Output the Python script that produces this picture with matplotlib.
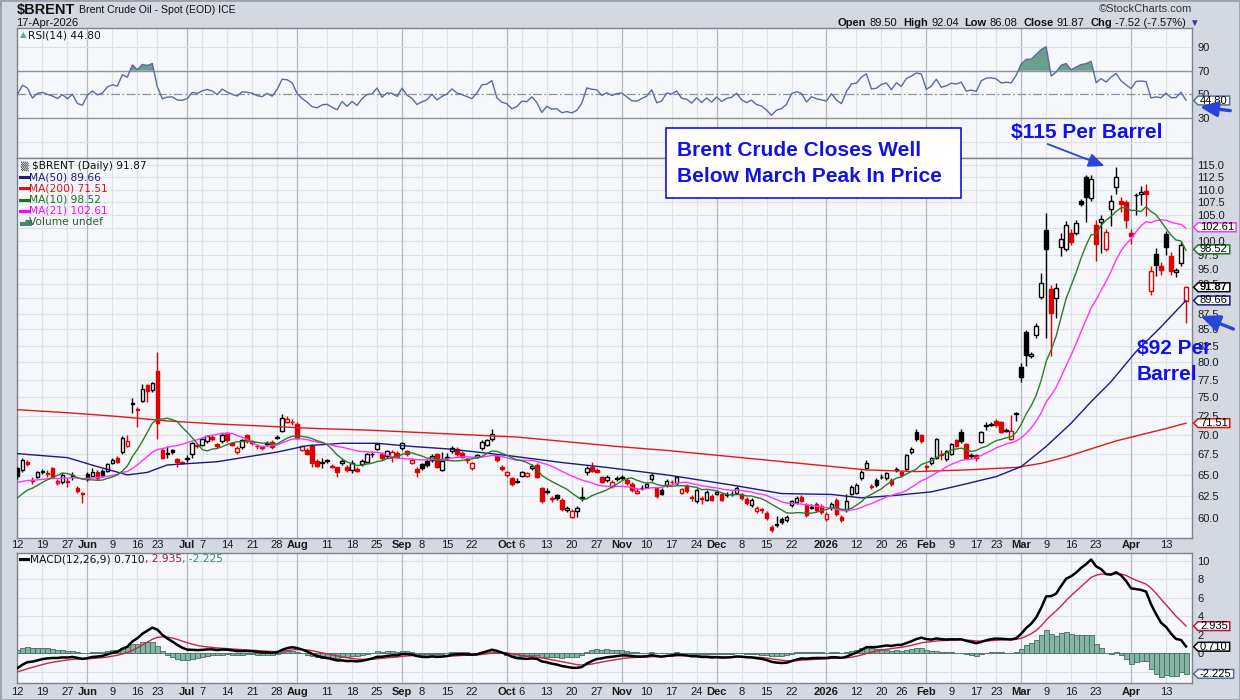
"""
$BRENT daily candles, Brent spot (EOD), May 2025 - Apr 2026.
Three stacked panels drawn like a StockCharts page: RSI(14) on top,
price with moving averages in the middle, MACD(12,26,9) at the bottom.
"""
import numpy as np
import pandas as pd
import matplotlib
matplotlib.use("Agg")
import matplotlib.pyplot as plt
from matplotlib.path import Path
from matplotlib.patches import Rectangle, FancyArrowPatch
from matplotlib.lines import Line2D
from matplotlib.ticker import NullLocator

# ---- daily OHLC, one value per trading day (US holidays skipped) ----
opens = [
    65.8, 65.6, 66.6, 64.4, 64.8, 65.3, 65.2, 65.8, 64.0, 64.1,
    64.3, 64.9, 63.5, 62.9, 65.1, 64.9, 65.4, 65.5, 65.5, 66.5,
    67.1, 67.8, 68.6, 74.1, 73.4, 74.5, 76.7, 76.0, 78.7, 68.0,
    67.6, 68.0, 66.9, 66.6, 66.9, 67.6, 68.7, 68.7, 69.2, 69.7,
    68.8, 69.2, 70.2, 68.9, 67.8, 68.4, 69.9, 69.1, 68.6, 68.5,
    68.8, 69.1, 69.6, 70.5, 71.7, 71.7, 71.4, 68.1, 68.1, 68.6,
    66.7, 66.5, 66.8, 66.1, 65.9, 66.4, 66.0, 65.6, 65.7, 66.3,
    66.6, 67.5, 68.2, 67.6, 67.3, 67.2, 67.7, 68.3, 67.9, 66.5,
    65.7, 66.3, 66.7, 66.8, 67.5, 65.6, 67.1, 67.9, 68.2, 67.7,
    66.9, 65.8, 67.2, 68.3, 68.7, 69.4, 67.3, 66.0, 65.0, 64.6,
    64.2, 64.9, 64.9, 65.8, 66.2, 63.4, 63.0, 62.3, 62.6, 62.1,
    60.9, 60.2, 60.8, 62.3, 65.4, 65.9, 65.6, 64.7, 64.4, 63.7,
    64.5, 64.6, 64.4, 63.9, 62.9, 63.4, 63.6, 64.5, 63.4, 63.2,
    63.8, 64.2, 64.0, 62.9, 63.7, 62.4, 61.9, 62.3, 62.1, 62.5,
    62.8, 62.7, 62.8, 62.7, 62.9, 62.7, 62.2, 61.5, 60.8, 61.0,
    60.6, 59.1, 59.3, 59.9, 59.8, 61.5, 61.8, 62.4, 61.5, 61.2,
    61.6, 61.4, 59.9, 61.1, 62.1, 60.2, 60.9, 62.8, 62.9, 64.6,
    65.8, 63.7, 64.4, 64.7, 64.6, 64.4, 65.6, 65.3, 65.7, 67.8,
    70.4, 69.9, 66.1, 66.4, 67.1, 67.5, 66.9, 67.6, 69.3, 70.4,
    68.8, 67.3, 67.4, 69.1, 71.1, 71.3, 71.8, 71.6, 70.5, 69.5,
    72.7, 79.3, 84.6, 80.9, 84.1, 90.2, 102.1, 91.6, 90.0, 98.9,
    98.6, 101.6, 101.6, 107.8, 112.6, 108.4, 103.0, 103.6, 98.5, 106.2,
    110.5, 107.8, 107.6, 101.6, 108.9, 109.1, 109.8, 91.2, 97.6, 95.5,
    101.3, 97.4, 94.55, 96.0, 89.50,
]
highs = [
    66.0, 67.0, 66.8, 64.8, 65.5, 65.7, 65.6, 66.0, 64.5, 65.2,
    64.6, 65.4, 63.7, 63.0, 65.3, 65.8, 65.6, 65.7, 66.5, 67.0,
    67.3, 69.8, 70.0, 74.9, 73.7, 76.8, 76.9, 77.2, 81.6, 68.3,
    68.5, 68.2, 67.0, 66.7, 67.4, 69.1, 68.9, 69.6, 70.0, 69.9,
    69.0, 70.2, 70.4, 69.1, 68.5, 69.5, 70.1, 69.3, 68.8, 68.6,
    69.2, 69.3, 70.0, 72.7, 72.4, 72.0, 71.6, 68.7, 68.3, 68.8,
    66.9, 67.0, 66.9, 66.3, 66.0, 66.9, 66.2, 66.8, 65.9, 66.9,
    67.7, 67.9, 69.0, 67.8, 68.1, 68.0, 67.9, 69.1, 68.1, 67.0,
    65.9, 66.5, 66.9, 67.5, 67.7, 67.8, 67.7, 68.6, 68.4, 67.9,
    67.1, 66.6, 67.6, 69.3, 69.5, 70.8, 67.5, 66.2, 65.5, 64.8,
    64.6, 65.5, 65.4, 66.3, 66.4, 63.6, 63.4, 62.5, 62.8, 62.3,
    61.4, 61.0, 61.4, 63.6, 66.1, 66.6, 65.8, 64.9, 65.0, 64.4,
    64.9, 65.0, 64.6, 64.1, 63.4, 63.8, 64.1, 65.2, 63.6, 63.4,
    64.5, 64.4, 64.9, 63.5, 63.9, 62.6, 63.4, 62.5, 63.2, 62.7,
    63.2, 62.9, 63.0, 63.1, 63.7, 62.9, 62.4, 62.3, 61.4, 61.2,
    60.8, 59.3, 60.3, 60.1, 60.4, 62.1, 62.5, 62.6, 61.7, 61.6,
    61.8, 61.6, 60.7, 61.8, 62.3, 60.4, 62.8, 63.8, 64.0, 65.6,
    66.8, 63.9, 64.6, 65.1, 65.4, 64.6, 66.0, 65.5, 67.6, 68.4,
    70.7, 70.1, 66.3, 67.2, 69.6, 68.0, 68.1, 69.0, 69.5, 70.7,
    69.0, 67.7, 67.6, 70.5, 71.6, 71.7, 72.0, 71.8, 70.9, 72.6,
    73.0, 79.9, 84.9, 81.5, 86.0, 94.3, 105.3, 92.2, 92.6, 101.5,
    103.8, 102.2, 104.0, 108.1, 113.1, 113.1, 104.0, 104.9, 102.3, 108.9,
    114.6, 108.5, 107.9, 102.3, 109.3, 110.8, 111.2, 95.5, 98.8, 96.2,
    102.0, 98.0, 95.2, 99.8, 92.04,
]
lows = [
    64.5, 65.4, 66.1, 63.9, 64.6, 65.1, 64.8, 64.6, 63.8, 63.9,
    63.6, 64.4, 62.9, 61.7, 64.3, 64.7, 64.4, 64.8, 65.3, 66.3,
    66.4, 67.5, 68.4, 72.9, 71.0, 74.3, 74.3, 75.8, 69.4, 66.9,
    67.0, 67.5, 65.9, 66.3, 66.6, 67.0, 68.3, 68.5, 69.0, 69.2,
    68.3, 69.0, 69.1, 68.5, 67.6, 68.2, 69.0, 68.7, 68.2, 68.1,
    68.6, 68.2, 69.4, 70.3, 71.5, 71.3, 69.4, 67.9, 67.4, 65.9,
    65.9, 65.8, 66.4, 65.8, 64.8, 66.2, 65.4, 65.2, 65.3, 66.1,
    66.4, 67.2, 68.0, 66.8, 67.1, 66.6, 67.0, 68.1, 67.3, 66.3,
    64.8, 65.6, 66.0, 66.6, 65.8, 65.5, 66.8, 67.7, 67.3, 67.0,
    66.5, 65.6, 67.0, 68.1, 68.5, 69.2, 66.6, 65.5, 64.8, 63.7,
    64.0, 64.7, 64.7, 65.6, 64.6, 61.7, 62.8, 61.8, 62.1, 60.8,
    60.7, 60.0, 60.2, 62.0, 65.0, 65.3, 65.2, 64.0, 64.2, 63.5,
    64.3, 64.4, 63.8, 63.0, 62.8, 63.2, 63.4, 64.3, 62.3, 62.6,
    63.6, 63.8, 63.8, 62.7, 62.9, 62.0, 61.7, 61.6, 61.9, 61.9,
    62.6, 61.9, 62.4, 62.5, 62.7, 62.1, 61.5, 61.3, 60.6, 60.6,
    59.8, 58.5, 59.1, 59.4, 59.6, 61.3, 61.6, 61.8, 60.2, 61.0,
    60.7, 60.5, 59.7, 60.9, 60.3, 59.6, 60.7, 62.6, 62.7, 64.4,
    65.6, 63.3, 63.6, 64.5, 64.4, 63.7, 65.4, 64.8, 65.5, 67.6,
    69.2, 69.0, 65.5, 66.2, 66.9, 66.8, 66.7, 67.4, 68.4, 69.0,
    66.9, 67.1, 66.7, 68.9, 70.6, 71.1, 71.0, 70.2, 70.3, 69.3,
    71.8, 77.1, 79.4, 80.7, 83.6, 89.9, 83.6, 80.9, 86.8, 97.3,
    98.3, 99.4, 101.2, 106.8, 103.7, 107.8, 96.5, 97.8, 98.2, 102.8,
    109.2, 105.5, 102.5, 99.5, 105.0, 106.9, 104.7, 90.5, 93.8, 93.9,
    97.5, 94.0, 93.6, 95.6, 86.08,
]
closes = [
    64.9, 66.8, 66.3, 64.3, 65.3, 65.5, 65.1, 64.8, 64.3, 65.0,
    64.2, 65.0, 63.1, 62.7, 64.5, 65.4, 64.6, 65.0, 66.3, 66.8,
    66.6, 69.6, 69.2, 74.2, 73.3, 76.1, 75.9, 77.0, 71.5, 67.1,
    67.7, 67.8, 66.6, 66.5, 67.0, 68.9, 68.6, 69.4, 69.8, 69.4,
    68.5, 70.0, 69.3, 68.7, 68.3, 69.3, 69.2, 69.0, 68.5, 68.3,
    68.9, 68.4, 69.7, 72.2, 72.1, 71.6, 69.6, 68.5, 67.6, 66.4,
    66.1, 66.6, 66.7, 66.0, 65.4, 66.7, 65.6, 66.4, 65.5, 66.7,
    67.5, 67.6, 68.8, 67.0, 67.9, 67.8, 67.2, 68.9, 67.5, 66.8,
    65.3, 65.8, 66.2, 67.3, 66.0, 66.7, 67.2, 68.3, 67.5, 67.2,
    66.8, 66.4, 67.4, 69.1, 69.3, 70.1, 66.8, 65.7, 65.3, 63.9,
    64.3, 65.3, 65.2, 66.1, 64.8, 61.9, 63.1, 62.2, 62.3, 61.0,
    61.2, 60.8, 61.2, 62.4, 65.8, 65.5, 65.4, 64.2, 64.8, 64.2,
    64.6, 64.7, 64.0, 63.2, 63.1, 63.5, 63.9, 65.0, 62.5, 62.8,
    64.3, 64.1, 64.7, 63.3, 63.1, 62.3, 63.2, 62.2, 63.0, 62.1,
    63.0, 62.1, 62.6, 62.8, 63.5, 62.3, 61.7, 62.1, 61.2, 60.9,
    60.0, 58.7, 59.4, 59.6, 60.2, 61.9, 62.3, 62.0, 60.4, 61.3,
    60.9, 60.7, 60.5, 61.6, 60.5, 59.8, 61.9, 63.6, 63.8, 65.4,
    66.4, 63.6, 63.8, 64.8, 65.2, 63.9, 65.7, 65.0, 67.4, 68.2,
    69.4, 69.2, 66.0, 67.0, 69.4, 67.4, 67.9, 68.8, 68.6, 69.2,
    67.1, 67.4, 67.1, 70.3, 71.3, 71.4, 71.2, 70.4, 70.6, 70.5,
    72.8, 77.9, 81.1, 81.3, 85.6, 92.6, 98.6, 87.6, 91.7, 100.4,
    103.0, 99.8, 103.4, 107.1, 108.5, 112.1, 99.5, 104.2, 101.7, 107.7,
    112.5, 107.1, 104.0, 101.0, 109.0, 109.5, 109.1, 94.7, 95.7, 94.8,
    99.0, 94.7, 94.8, 99.39, 91.87,
]

# long averages at a handful of days (trading-day index, value)
ma50_idx = [0, 10, 16, 22, 26, 30, 40, 52, 58, 65, 72, 79, 86, 92, 99, 109, 118,
            130, 143, 153, 163, 169, 176, 183, 189, 196, 201, 206, 211, 215, 219,
            224, 229, 234]
ma50_val = [67.6, 67.1, 66.0, 65.0, 65.3, 66.2, 66.6, 67.8, 68.6, 68.9, 68.9, 68.5,
            68.2, 67.8, 67.3, 66.5, 65.9, 65.0, 63.8, 62.8, 62.7, 62.3, 62.6, 63.0,
            63.8, 64.8, 66.0, 68.5, 71.5, 74.4, 77.2, 81.6, 85.4, 89.66]
ma200_idx = [0, 10, 20, 30, 40, 50, 60, 70, 80, 90, 100, 110, 120, 130, 140, 150,
             160, 170, 180, 190, 200, 205, 210, 215, 220, 225, 230, 234]
ma200_val = [73.3, 72.9, 72.4, 71.8, 71.4, 71.1, 70.8, 70.6, 70.3, 70.0, 69.7, 69.1,
             68.5, 68.0, 67.4, 66.8, 66.2, 65.6, 65.4, 65.6, 65.9, 66.4, 67.2, 68.2,
             69.2, 70.0, 70.8, 71.51]

# indicator levels seen at the left edge (history before 12 May is off the chart)
ma10_start, ma21_start = 62.3, 64.1
rsi_start, rsi_avg_move = 50.0, 0.8
macd_start, signal_start, ema26_start = -1.6, -2.0, 65.2

# last values printed in the legends / right-hand tags
last_tags_price = [(102.61, "102.61", "#ff33ff"), (98.52, "98.52", "#1f7a1f"),
                   (91.87, "91.87", "#000000"), (89.66, "89.66", "#1a1a80"),
                   (71.51, "71.51", "#e01010")]
rsi_last = 44.80
macd_last = [(2.935, "2.935", "#b0183c"), (0.710, "0.710", "#000000"),
             (-2.225, "-2.225", "#5a6b9e")]

# weekly date ticks (trading-day index, label); month names bold
tick_idx = [0, 5, 10, 14, 19, 24, 28, 34, 37, 42, 47, 52, 56, 62, 67, 72, 77, 81,
            86, 91, 98, 101, 106, 111, 116, 121, 126, 131, 136, 140, 145, 150, 155,
            162, 168, 173, 177, 182, 187, 192, 196, 201, 206, 211, 216, 223, 230]
tick_lab = ["12", "19", "27", "Jun", "9", "16", "23", "Jul", "7", "14", "21", "28",
            "Aug", "11", "18", "25", "Sep", "8", "15", "22", "Oct", "6", "13", "20",
            "27", "Nov", "10", "17", "24", "Dec", "8", "15", "22", "2026", "12", "20",
            "26", "Feb", "9", "17", "23", "Mar", "9", "16", "23", "Apr", "13"]

# axis labels that sit under a value tag in the reference (not printed there)
hidden_price_labels = [102.5, 90.0]
hidden_macd_labels = [-2]

# ---- palette ----
OUTER = "#d3d8e1"
PANEL = "#f5f7fb"
GRID = "#dde1e8"
GRID_M = "#b3b8c1"
SPINE = "#7d838e"
UP, DN = "#000000", "#e00000"
BLUE_T = "#1212e8"
BLUE_A = "#2845d6"
SANS = ["Liberation Sans", "DejaVu Sans"]
VERD = ["DejaVu Sans"]

FW, FH = 1240, 700
L_PX, R_PX = 16.5, 1192.0


def fxy(x, y):
    return x / FW, 1 - y / FH


c = np.array(closes)
o = np.array(opens)
h = np.array(highs)
lo = np.array(lows)
x = np.arange(len(c))


def sma(vals, n, start):
    lead = (n * start - vals[0]) / (n - 1)
    s = pd.Series(np.r_[np.full(n - 1, lead), vals])
    return s.rolling(n).mean().to_numpy()[n - 1:]


ma10 = sma(c, 10, ma10_start)
ma21 = sma(c, 21, ma21_start)

# RSI(14), Wilder smoothing
rsi = np.empty(len(c))
rsi[0] = rsi_start
ag = rsi_avg_move * rsi_start / 100
al = rsi_avg_move * (100 - rsi_start) / 100
for i in range(1, len(c)):
    d = c[i] - c[i - 1]
    ag = (ag * 13 + max(d, 0)) / 14
    al = (al * 13 + max(-d, 0)) / 14
    rsi[i] = 100 - 100 / (1 + ag / al)

# MACD(12,26,9)
macd = np.empty(len(c))
sig = np.empty(len(c))
e26 = ema26_start
e12 = e26 + macd_start
macd[0], sig[0] = macd_start, signal_start
for i in range(1, len(c)):
    e12 += 2 / 13 * (c[i] - e12)
    e26 += 2 / 27 * (c[i] - e26)
    macd[i] = e12 - e26
    sig[i] = sig[i - 1] + 2 / 10 * (macd[i] - sig[i - 1])
hist = macd - sig

# ---- figure ----
fig = plt.figure(figsize=(FW / 100, FH / 100), dpi=100)
fig.patch.set_facecolor(OUTER)


def panel(top, bottom):
    ax = fig.add_axes([L_PX / FW, 1 - bottom / FH, (R_PX - L_PX) / FW, (bottom - top) / FH])
    ax.set_facecolor(PANEL)
    for s in ax.spines.values():
        s.set_color(SPINE)
        s.set_linewidth(1.0)
    ax.set_xlim(-0.2, 235.2)
    ax.set_xticks([])
    ax.yaxis.tick_right()
    ax.tick_params(axis="y", length=0, pad=4, labelsize=8, labelcolor="#1a1a1a")
    for i, t in zip(tick_idx, tick_lab):
        month = not t.isdigit() or t == "2026"
        ax.axvline(i, color=GRID_M if month else GRID, lw=0.9, zorder=0.5)
    return ax


ax_r = panel(28, 158)
ax_p = panel(158, 538)
ax_m = panel(553, 683)

# ---- RSI ----
ax_r.set_ylim(-3.8, 106.1)
ax_r.set_yticks([90, 70, 50, 30])
ax_r.set_yticklabels(["90", "70", "50", "30"], family=SANS)
for lv in (10, 90):
    ax_r.axhline(lv, color=GRID, lw=0.9, zorder=0.5)
ax_r.axhline(70, color="#8c919b", lw=1.0, zorder=1)
ax_r.axhline(30, color="#8c919b", lw=1.0, zorder=1)
ax_r.axhline(50, color="#8c919b", lw=0.9, dashes=(7, 2, 1.5, 2), zorder=1)
ax_r.fill_between(x, rsi, 70, where=rsi >= 70, interpolate=True,
                  color="#6d9d8c", lw=0, zorder=2)
ax_r.plot(x, rsi, color="#5a6b9e", lw=1.0, zorder=3)

# ---- price ----
ax_p.set_yscale("log")
ax_p.set_ylim(57.86, 116.6)
pt = np.arange(60, 115.01, 2.5)
ax_p.set_yticks(pt)
ax_p.set_yticklabels(["" if v in hidden_price_labels else f"{v:.1f}" for v in pt],
                     family=SANS)
ax_p.yaxis.set_minor_locator(NullLocator())
for v in pt:
    ax_p.axhline(v, color=GRID, lw=0.9, zorder=0.4)

prev = np.r_[c[0], c[:-1]]
col = np.where(c < prev, DN, UP)
face = np.where(c >= o, "white", col)
ax_p.vlines(x, lo, h, colors=col, lw=1.0, zorder=3)
ax_p.bar(x, np.abs(c - o), bottom=np.minimum(o, c), width=0.72, color=face,
         edgecolor=col, linewidth=1.0, zorder=3.2)

ax_p.plot(ma200_idx, ma200_val, color="#e01a1a", lw=1.0, zorder=4)
ax_p.plot(ma50_idx, ma50_val, color="#1a1a80", lw=1.0, zorder=4)
ax_p.plot(x, ma21, color="#ff33ff", lw=1.0, zorder=4)
ax_p.plot(x, ma10, color="#2a7d2a", lw=1.0, zorder=4)

# ---- MACD ----
ax_m.set_ylim(-3.21, 10.84)
mt = [10, 8, 6, 4, 2, 0, -2]
ax_m.set_yticks(mt)
ax_m.set_yticklabels(["" if v in hidden_macd_labels else str(v) for v in mt], family=SANS)
for v in mt:
    ax_m.axhline(v, color=GRID, lw=0.9, zorder=0.4)
ax_m.bar(x, hist, width=1.0, color="#86b3a4", edgecolor="#3f6f5f", linewidth=0.6, zorder=2)
ax_m.plot(x, sig, color="#c8234a", lw=1.0, zorder=3)
ax_m.plot(x, macd, color="#000000", lw=1.8, zorder=4)

# ---- date labels under price and MACD panels ----
for ax, dy in ((ax_p, -7), (ax_m, -9)):
    for i, t in zip(tick_idx, tick_lab):
        month = not t.isdigit() or t == "2026"
        ax.annotate(t, xy=(i, 0), xycoords=ax.get_xaxis_transform(),
                    xytext=(0, dy), textcoords="offset pixels", ha="center",
                    va="center", fontsize=8, family=SANS, color="#1a1a1a",
                    fontweight="bold" if month else "normal")


# ---- right-hand value tags ----
def tag_shape(x0, y0, width, height, mutation_size):
    padx = 0.18 * mutation_size
    x0 -= padx
    width += 2 * padx
    y0 += 0.06 * height
    height *= 0.88
    tip = height * 0.5
    x1, y1 = x0 + width, y0 + height
    ym = (y0 + y1) / 2
    verts = [(x0 - tip, ym), (x0, y1), (x1, y1), (x1, y0), (x0, y0), (x0 - tip, ym)]
    return Path(verts, closed=True)


def tag(ax, val, txt, ec, bold=False):
    ax.annotate(txt, xy=(1, val), xycoords=ax.get_yaxis_transform(),
                xytext=(8, 0), textcoords="offset pixels", ha="left", va="center",
                fontsize=8, family=SANS, color="#000000",
                fontweight="bold" if bold else "normal", zorder=6,
                bbox=dict(boxstyle=tag_shape, fc="white", ec=ec, lw=1.1))


for v, t, ec in last_tags_price:
    tag(ax_p, v, t, ec, bold=(t == "91.87"))
tag(ax_r, rsi_last, f"{rsi_last:.2f}", "#5a6b9e")
for v, t, ec in macd_last:
    tag(ax_m, v, t, ec)

# ---- text helpers (pixel positions) ----
renderer = fig.canvas.get_renderer()


def chain(x0, y0, parts, family):
    xx = x0
    for s, color, weight, size, gap in parts:
        t = fig.text(*fxy(xx, y0), s, color=color, fontweight=weight, fontsize=size,
                     family=family, ha="left", va="center", zorder=7)
        xx += t.get_window_extent(renderer).width + gap
    return xx


def dash(x0, y0, color, w=8):
    a, b = fxy(x0, y0)
    a2, _ = fxy(x0 + w, y0)
    fig.add_artist(Line2D([a, a2], [b, b], color=color, lw=2.2, transform=fig.transFigure))


# header
chain(L_PX, 10, [("$BRENT", "#111111", "bold", 10.5, 4),
                 ("Brent Crude Oil - Spot (EOD) ICE", "#111111", "normal", 7.6, 0)], SANS)
fig.text(*fxy(L_PX, 22.5), "17-Apr-2026", fontsize=8, family=SANS, color="#111111",
         ha="left", va="center")
fig.text(*fxy(R_PX, 9.5), "\u00a9StockCharts.com", fontsize=8, family=SANS,
         color="#333333", ha="right", va="center")
chain(838, 22.5, [("Open", "#111111", "bold", 8, 3), ("89.50", "#111111", "normal", 8, 6),
                  ("High", "#111111", "bold", 8, 3), ("92.04", "#111111", "normal", 8, 6),
                  ("Low", "#111111", "bold", 8, 3), ("86.08", "#111111", "normal", 8, 6),
                  ("Close", "#111111", "bold", 8, 3), ("91.87", "#111111", "normal", 8, 6),
                  ("Chg", "#111111", "bold", 8, 3),
                  ("-7.52 (-7.57%)", "#111111", "normal", 8, 3),
                  ("\u25bc", "#2a3f8f", "normal", 7, 0)], SANS)

# panel legends
fig.text(*fxy(20, 35), "\u25b2", fontsize=6, color="#6d9d8c", ha="left", va="center")
fig.text(*fxy(28, 35), "RSI(14) 44.80", fontsize=7.7, family=VERD, color="#111111",
         ha="left", va="center")

leg = [("$BRENT (Daily) 91.87", "#111111"), ("MA(50) 89.66", "#1a1a80"),
       ("MA(200) 71.51", "#e01010"), ("MA(10) 98.52", "#1f6f1f"),
       ("MA(21) 102.61", "#ff00ff"), ("Volume undef", "#2f5f2f")]
for k, (s, cl) in enumerate(leg):
    yy = 166 + 11.2 * k
    if k == 0:
        fig.text(*fxy(20, yy), "\u2592", fontsize=7, color="#333333", ha="left", va="center")
        fig.text(*fxy(32, yy), s, fontsize=7.7, family=VERD, color=cl, ha="left", va="center")
    elif k == 5:
        fig.text(*fxy(19, yy), "\u2584\u2586", fontsize=6, color="#4f7f6f", ha="left", va="center")
        fig.text(*fxy(29, yy), s, fontsize=7.7, family=VERD, color=cl, ha="left", va="center")
    else:
        dash(20, yy, cl)
        fig.text(*fxy(29, yy), s, fontsize=7.7, family=VERD, color=cl, ha="left", va="center")

dash(20, 559, "#000000")
chain(30, 559, [("MACD(12,26,9) 0.710", "#111111", "normal", 7.7, 0),
                (", 2.935", "#b0183c", "normal", 7.7, 0),
                (", -2.225", "#3d8a76", "normal", 7.7, 0)], VERD)

# ---- annotations ----
bx0, by0 = fxy(666, 198)
fig.add_artist(Rectangle((bx0, by0), 295 / FW, 70 / FH, transform=fig.transFigure,
                         fc="white", ec=BLUE_T, lw=1.2, zorder=5))
fig.text(*fxy(677, 150), "Brent Crude Closes Well", fontsize=15, fontweight="bold",
         family=SANS, color=BLUE_T, ha="left", va="center", zorder=6)
fig.text(*fxy(677, 176), "Below March Peak In Price", fontsize=15, fontweight="bold",
         family=SANS, color=BLUE_T, ha="left", va="center", zorder=6)
fig.text(*fxy(1011, 132), "$115 Per Barrel", fontsize=15, fontweight="bold",
         family=SANS, color=BLUE_T, ha="left", va="center", zorder=6)
fig.text(*fxy(1137, 348), "$92 Per", fontsize=15, fontweight="bold",
         family=SANS, color=BLUE_T, ha="left", va="center", zorder=6)
fig.text(*fxy(1137, 374), "Barrel", fontsize=15, fontweight="bold",
         family=SANS, color=BLUE_T, ha="left", va="center", zorder=6)


def arrow(p0, p1, lw, ms):
    a = FancyArrowPatch(fxy(*p0), fxy(*p1), transform=fig.transFigure,
                        arrowstyle="-|>,head_length=0.8,head_width=0.35",
                        mutation_scale=ms, color=BLUE_A, lw=lw, zorder=8)
    fig.add_artist(a)


arrow((1045, 143), (1107, 167), 1.3, 12)
arrow((1236, 330), (1198, 315), 2.4, 14)
arrow((1233, 111), (1197, 106.5), 2.4, 13)

# outer frame
fig.add_artist(Rectangle((0, 0), 1, 1, transform=fig.transFigure, fill=False,
                         ec="#9aa1ad", lw=2, zorder=9))

fig.savefig("out.png", dpi=100, facecolor=OUTER)
print("saved out.png")
